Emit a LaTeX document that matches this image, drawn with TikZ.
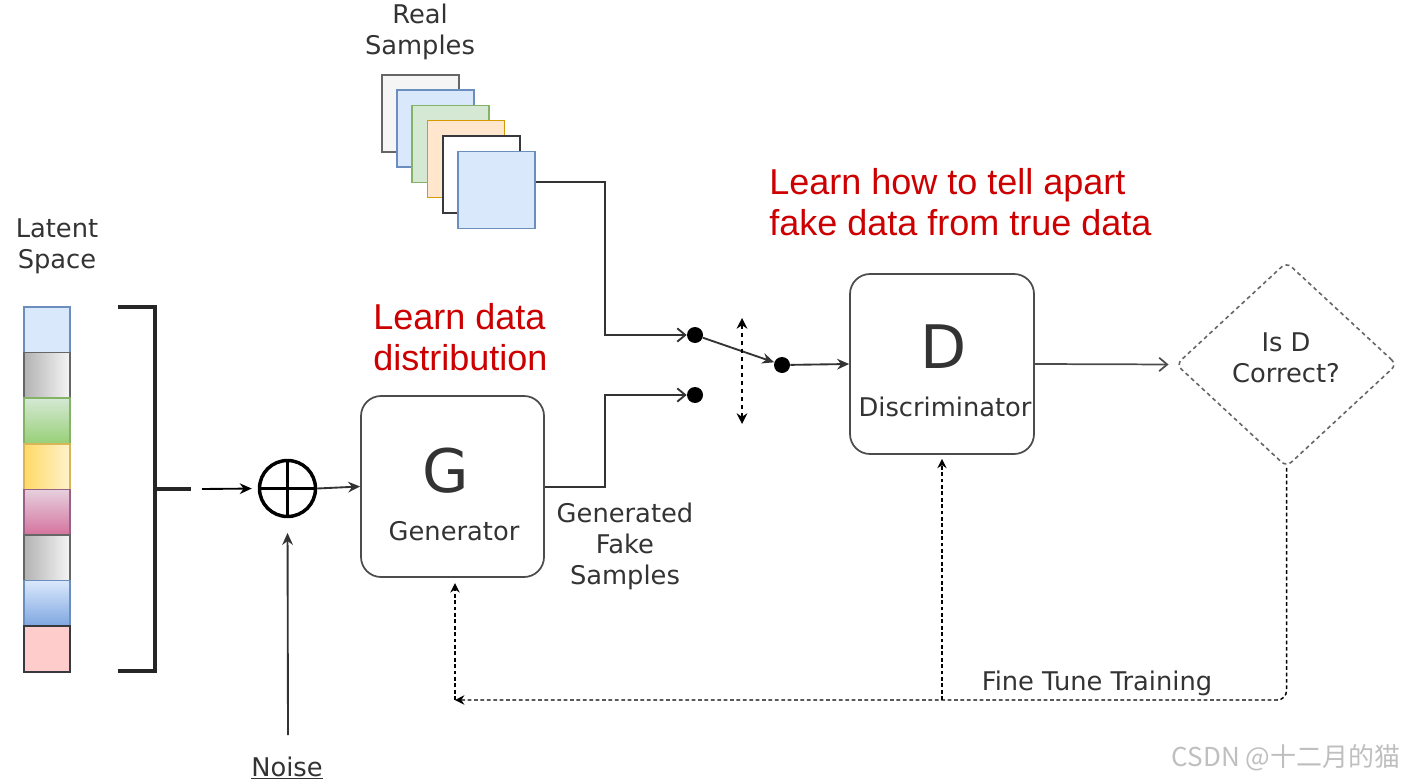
\documentclass[tikz,border=0pt]{standalone}
\usepackage{fontspec}
\setmainfont{DejaVu Sans}
\newfontfamily\redfont{Liberation Sans}
\newfontfamily\cjkfont{Noto Sans CJK SC}
\usetikzlibrary{arrows.meta,shapes.geometric,calc}
\definecolor{txt}{HTML}{333333}
\definecolor{lred}{RGB}{204,0,0}
\definecolor{bluefill}{HTML}{DAE8FC}
\definecolor{bluestroke}{HTML}{6C8EBF}
\definecolor{greenfill}{HTML}{D5E8D4}
\definecolor{greenstroke}{HTML}{82B366}
\definecolor{orangefill}{HTML}{FFE6CC}
\definecolor{orangestroke}{HTML}{D79B00}
\definecolor{grayfill}{HTML}{F5F5F5}
\definecolor{graystroke}{HTML}{666666}
\definecolor{darkstroke}{HTML}{36393D}
\begin{document}
\begin{tikzpicture}[x=0.75pt,y=-0.75pt,
  lbl/.style={font=\fontsize{19.3}{23.2}\selectfont, text=txt, align=center, inner sep=0pt},
  biglbl/.style={font=\fontsize{45}{50}\selectfont, text=txt, inner sep=0pt},
  redlbl/.style={font=\redfont\fontsize{27}{30.75}\selectfont, text=lred, align=left, inner sep=0pt, anchor=west},
  box/.style={draw=black!70, line width=1.3pt, rounded corners=15pt, fill=white},
  sample/.style={rectangle, line width=1.3pt, minimum size=57.75pt, inner sep=0pt},
  dot/.style={circle, fill=black, minimum size=12pt, inner sep=0pt},
  conn/.style={draw=black!80, line width=1.4pt},
  openarr/.style={conn, -{Straight Barb[length=6pt,width=10pt]}},
  fillarr/.style={conn, -{Stealth[length=9pt,width=8pt]}},
  fb/.style={draw=black, line width=1.1pt, dash pattern=on 2.8pt off 2pt},
  seg/.style={line width=1.3pt}
]
\useasboundingbox (0,0) rectangle (1408,784);

% ---------- Latent space ----------
\node[lbl] (latlbl) at (57,246) {Latent\\Space};
\draw[seg, fill=bluefill, draw=bluestroke] (24,307) rectangle (70,352.6);
\draw[seg, left color=black!30, right color=grayfill, draw=graystroke] (24,352.6) rectangle (70,398.2);
\draw[seg, top color=greenfill, bottom color={rgb,255:red,151;green,208;blue,119}, draw=greenstroke] (24,398.2) rectangle (70,443.8);
\draw[seg, left color={rgb,255:red,255;green,217;blue,102}, right color={rgb,255:red,255;green,242;blue,204}, draw={rgb,255:red,214;green,182;blue,86}] (24,443.8) rectangle (70,489.4);
\draw[seg, top color={rgb,255:red,230;green,208;blue,222}, bottom color={rgb,255:red,213;green,115;blue,157}, draw={rgb,255:red,153;green,97;blue,133}] (24,489.4) rectangle (70,535);
\draw[seg, left color=black!30, right color=grayfill, draw=graystroke] (24,535) rectangle (70,580.6);
\draw[seg, top color=bluefill, bottom color={rgb,255:red,126;green,166;blue,224}, draw=bluestroke] (24,580.6) rectangle (70,626.2);
\draw[seg, fill={rgb,255:red,255;green,204;blue,204}, draw=darkstroke] (24,626.2) rectangle (70,671.8);

% bracket
\coordinate (brtop) at (118,307);
\coordinate (brbot) at (118,671);
\coordinate (brmid) at (155,489);
\coordinate (brtick) at (191,489);
\draw[line width=2.8pt, draw=black!85] (brtop) -| (brmid) |- (brbot);
\draw[line width=2.8pt, draw=black!85] (brmid) -- (brtick);

% oplus
\node[circle, draw=black, line width=2.6pt, minimum size=42pt, inner sep=0pt] (op) at (287.5,488.5) {};
\draw[line width=2.6pt] (op.north) -- (op.south);
\draw[line width=2.6pt] (op.west) -- (op.east);
\coordinate (latin) at (202,489);
\draw[fillarr, draw=black, shorten >=4.5pt] (latin) -- (op.west);

% noise
\node[lbl] (noise) at (287,768) {\underline{Noise}};
\coordinate (noisestart) at (288,735);
\draw[fillarr, shorten >=11pt] (noisestart) -- (op.south);

% ---------- Generator ----------
\node[box, minimum width=137.25pt, minimum height=135.75pt] (G) at (452.5,486.5) {};
\node[biglbl] (Gl) at (446,471) {G};
\node[lbl] (Gt) at (454,531) {Generator};
\draw[fillarr] (op.east) -- (G.west);

% ---------- Real samples ----------
\node[lbl] (real) at (420,32) {Real\\Samples};
\node[sample, draw=graystroke, fill=grayfill] (s1) at (420.5,113.5) {};
\node[sample, draw=bluestroke, fill=bluefill] (s2) at (435.5,128.5) {};
\node[sample, draw=greenstroke, fill=greenfill] (s3) at (450.5,144) {};
\node[sample, draw=orangestroke, fill=orangefill] (s4) at (466,159) {};
\node[sample, draw=darkstroke, fill=white] (s5) at (481.5,174.5) {};
\node[sample, draw=bluestroke, fill=bluefill] (s6) at (496.5,190) {};

% ---------- switch ----------
\node[dot] (d1) at (695,335) {};
\node[dot] (d2) at (695,395) {};
\node[dot] (d3) at (782,365) {};
\draw[openarr] ($(s6.east)+(0,-8)$) -| (605,335) -- (d1.west);
\draw[openarr] (G.east |- 0,487) -| (605,395) -- (d2.west);
\draw[fillarr] (d1) -- (d3);
\coordinate (swt) at (742,318);
\coordinate (swb) at (742,424);
\draw[draw=black, line width=1.3pt, dash pattern=on 3.5pt off 2.5pt, {Stealth[length=8pt,width=8pt]}-{Stealth[length=8pt,width=8pt]}] (swt) -- (swb);

\node[lbl] (gfs) at (625,546) {Generated\\Fake\\Samples};

% ---------- Discriminator ----------
\node[box, minimum width=138pt, minimum height=135pt] (D) at (942,364) {};
\node[biglbl] (Dl) at (944,347) {D};
\node[lbl] (Dt) at (945,407) {Discriminator};
\draw[fillarr] (d3) -- (D.west);

% ---------- decision ----------
\node[diamond, draw=black!60, line width=1.2pt, dash pattern=on 3pt off 2.5pt, rounded corners=5pt, minimum width=165.75pt, minimum height=153.75pt, inner sep=0pt] (Q) at (1286.5,364.5) {};
\node[lbl] (Qt) at (1286,358) {Is D\\Correct?};
\draw[draw=black!70, line width=1.3pt, -{Straight Barb[length=6pt,width=10pt]}, shorten >=5pt] (D.east) -- (Q.west);

% ---------- feedback ----------
\coordinate (fbl) at (455,700);
\coordinate (fbm) at (942,700);
\draw[fb, rounded corners=7pt, -{Stealth[length=7pt,width=7pt]}] (Q.south) |- (fbl);
\draw[fb, -{Stealth[length=7pt,width=7pt]}, shorten >=4pt] (fbl) -- (G.south -| fbl);
\draw[fb, -{Stealth[length=7pt,width=7pt]}, shorten >=3pt] (fbm) -- (D.south -| fbm);
\node[lbl] (ftt) at (1097,683) {Fine Tune Training};

% ---------- red notes ----------
\node[redlbl] (note1) at (373,337) {Learn data\\distribution};
\node[redlbl] (note2) at (769,202) {Learn how to tell apart\\fake data from true data};

% watermark
\node[font=\cjkfont\fontsize{19.5}{22}\selectfont, text=black!25, inner sep=0pt] (wm) at (1286,758) {CSDN @十二月的猫};
\end{tikzpicture}
\end{document}
